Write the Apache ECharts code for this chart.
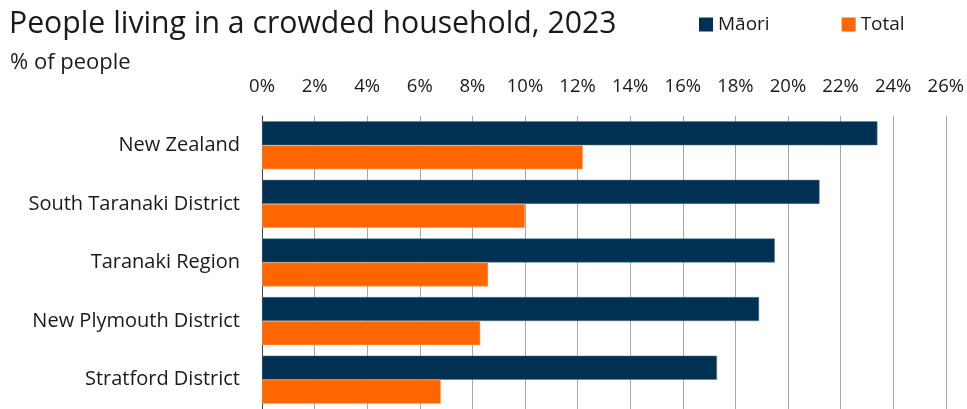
<!DOCTYPE html>
<html><head><meta charset="utf-8">
<script src="https://cdn.jsdelivr.net/npm/echarts@6/dist/echarts.min.js"></script>
<style>html,body{margin:0;padding:0;background:#fff}#c{width:967px;height:409px}</style>
</head><body><div id="c"></div>
<script>
const categories = ['New Zealand','South Taranaki District','Taranaki Region','New Plymouth District','Stratford District'];
const maori = [23.4, 21.2, 19.5, 18.9, 17.3];
const total = [12.2, 10.0, 8.6, 8.3, 6.8];
const seriesNames = ['Māori','Total'];
const FONT = '"Open Sans", "Noto Sans", sans-serif';
const chart = echarts.init(document.getElementById('c'));
chart.setOption({
  animation:false,
  title:[{text:'People living in a crowded household, 2023',left:4,top:4,textStyle:{fontFamily:FONT,fontSize:30.2,fontWeight:'normal',color:'#1a1a1a'}},
         {text:'% of people',left:5,top:47,textStyle:{fontFamily:FONT,fontSize:22,fontWeight:'normal',color:'#1a1a1a'}}],
  legend:{left:694,top:10,itemWidth:14,itemHeight:14,itemGap:72,icon:'rect',
    itemStyle:{borderWidth:0},
    textStyle:{fontFamily:FONT,fontSize:19,color:'#1a1a1a'},data:seriesNames},
  grid:{left:262,top:116,width:684,height:295,containLabel:false},
  xAxis:{type:'value',position:'top',min:0,max:26,interval:2,
    axisLabel:{formatter:'{value}%',fontFamily:FONT,fontSize:18.5,color:'#1a1a1a',margin:20},
    axisLine:{show:false},axisTick:{show:false},
    splitLine:{lineStyle:{color:'#a6a6a6',width:1}}},
  yAxis:{type:'category',inverse:true,data:categories,
    axisLabel:{fontFamily:FONT,fontSize:20,color:'#1a1a1a',margin:22},
    axisLine:{lineStyle:{color:'#404040'}},axisTick:{length:6,lineStyle:{color:'#404040'}}},
  series:[
    {name:seriesNames[0],type:'bar',data:maori,barGap:'0%',barCategoryGap:'18%',itemStyle:{color:'#003152',borderColor:'#5a7a94',borderWidth:0.5}},
    {name:seriesNames[1],type:'bar',data:total,barGap:'0%',barCategoryGap:'18%',itemStyle:{color:'#ff6600',borderColor:'#ffb080',borderWidth:0.5}}
  ]
});
</script></body></html>
